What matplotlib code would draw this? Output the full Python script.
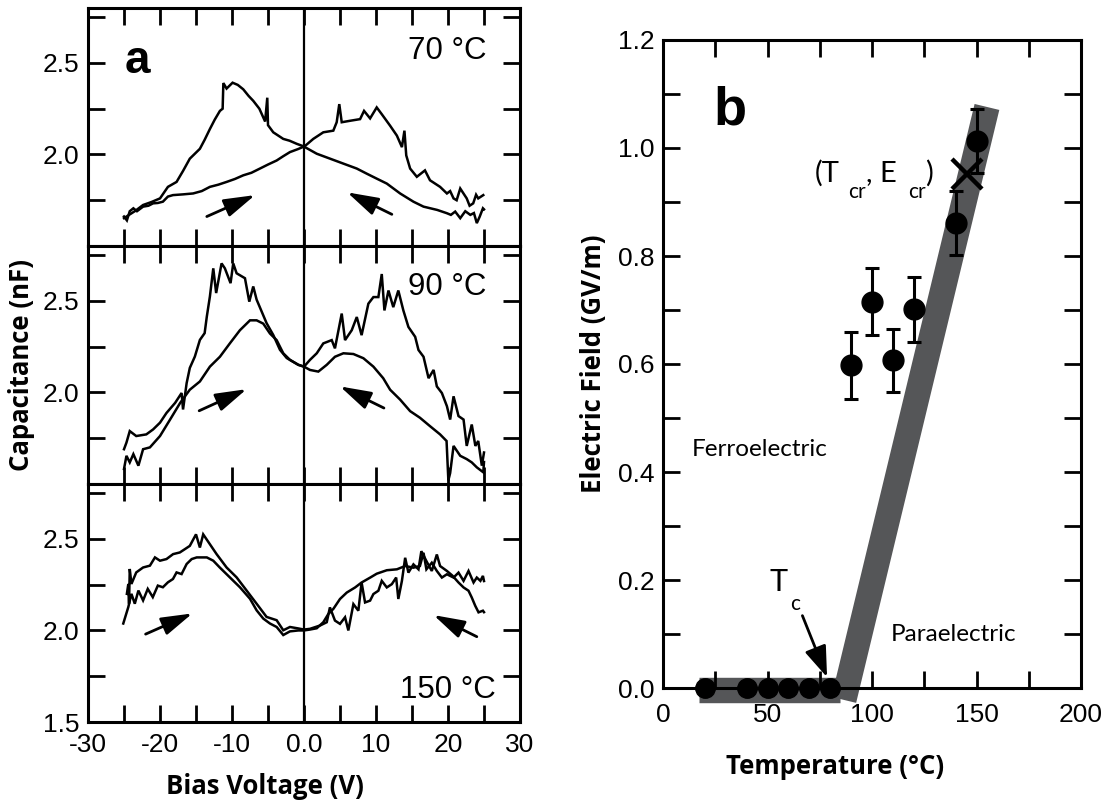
import matplotlib
matplotlib.use("Agg")
import matplotlib.pyplot as plt
from matplotlib.ticker import MultipleLocator, FixedLocator, FuncFormatter

# ---------------- data: panel a (bias voltage V, capacitance nF) ----------------
sweep_70_fwd = [(-25.0, 1.661), (-24.6, 1.64), (-24.2, 1.69), (-23.7, 1.706), (-23.2, 1.69),
                (-22.35, 1.715), (-21.6, 1.72), (-20.96, 1.733), (-20.3, 1.735), (-19.6, 1.742),
                (-18.9, 1.77), (-18.2, 1.778), (-16.8, 1.782), (-15.4, 1.787), (-14.2, 1.80),
                (-13.07, 1.823), (-11.9, 1.835), (-10.75, 1.85), (-9.6, 1.866), (-8.44, 1.886),
                (-7.3, 1.90), (-6.12, 1.923), (-5.0, 1.945), (-3.8, 1.967), (-2.9, 1.99),
                (-1.95, 2.013), (-0.79, 2.03), (0.1, 2.045), (1.29, 2.085), (2.68, 2.121),
                (4.07, 2.13), (4.54, 2.176), (4.9, 2.275), (5.24, 2.176), (6.4, 2.184),
                (7.79, 2.193), (8.34, 2.238), (9.18, 2.197), (10.1, 2.257), (10.8, 2.22),
                (11.96, 2.157), (12.9, 2.103), (13.6, 2.04), (13.95, 2.13), (14.2, 1.995),
                (14.74, 1.923), (15.67, 1.878), (16.8, 1.913), (17.5, 1.859), (18.9, 1.823),
                (19.85, 1.787), (20.3, 1.80), (20.77, 1.76), (21.2, 1.75), (21.7, 1.814),
                (22.1, 1.79), (22.6, 1.76), (23.0, 1.72), (23.5, 1.733), (23.9, 1.78),
                (24.2, 1.76), (24.9, 1.778)]
sweep_70_rev = [(25.0, 1.70), (24.85, 1.706), (24.4, 1.66), (24.0, 1.625), (23.6, 1.68),
                (23.1, 1.67), (22.4, 1.69), (21.7, 1.652), (21.0, 1.688), (20.4, 1.67),
                (19.85, 1.679), (18.5, 1.697), (16.6, 1.715), (15.2, 1.742), (13.35, 1.787),
                (11.5, 1.841), (10.1, 1.868), (8.72, 1.895), (7.33, 1.923), (5.47, 1.95),
                (3.62, 1.977), (1.77, 2.004), (-0.1, 2.045), (-1.0, 2.058), (-2.0, 2.075),
                (-2.88, 2.085), (-4.27, 2.121), (-5.0, 2.16), (-5.1, 2.31), (-5.4, 2.18),
                (-6.2, 2.25), (-7.05, 2.293), (-7.7, 2.32), (-8.44, 2.356), (-9.2, 2.38),
                (-9.92, 2.392), (-10.75, 2.36), (-11.2, 2.39), (-11.3, 2.25), (-11.68, 2.238),
                (-12.4, 2.19), (-13.07, 2.139), (-13.8, 2.08), (-14.46, 2.031), (-15.86, 1.977),
                (-16.8, 1.91), (-17.7, 1.85), (-18.9, 1.823), (-20.0, 1.76), (-21.2, 1.74),
                (-22.35, 1.724), (-23.5, 1.69), (-24.3, 1.67), (-25.0, 1.652)]

sweep_90_fwd = [(-25.0, 1.582), (-24.66, 1.654), (-24.2, 1.618), (-23.7, 1.663), (-23.0, 1.60),
                (-22.35, 1.69), (-21.4, 1.70), (-20.0, 1.762), (-18.6, 1.852), (-17.2, 1.943),
                (-15.86, 2.015), (-14.46, 2.06), (-13.07, 2.141), (-11.68, 2.195), (-10.3, 2.268),
                (-8.9, 2.34), (-7.5, 2.394), (-6.58, 2.394), (-5.66, 2.376), (-4.73, 2.322),
                (-3.8, 2.286), (-2.88, 2.214), (-1.95, 2.178), (-0.79, 2.151), (0.0, 2.141),
                (0.83, 2.178), (1.77, 2.214), (2.68, 2.268), (3.85, 2.286), (4.3, 2.241),
                (5.24, 2.431), (5.7, 2.286), (6.63, 2.34), (7.33, 2.412), (8.0, 2.313),
                (8.94, 2.485), (9.64, 2.521), (10.33, 2.521), (10.8, 2.647), (11.17, 2.448),
                (11.73, 2.557), (12.4, 2.466), (13.1, 2.557), (13.8, 2.448), (14.5, 2.358),
                (15.44, 2.304), (15.9, 2.232), (16.6, 2.195), (17.3, 2.078), (18.0, 2.123),
                (18.45, 2.033), (19.15, 1.997), (19.85, 1.925), (20.3, 1.852), (20.77, 1.979),
                (21.46, 1.871), (22.16, 1.852), (22.6, 1.708), (23.3, 1.825), (23.8, 1.708),
                (24.2, 1.735), (24.7, 1.60), (25.0, 1.672)]
sweep_90_rev = [(25.0, 1.62), (24.9, 1.564), (24.0, 1.591), (23.3, 1.618), (22.6, 1.636),
                (21.7, 1.654), (20.77, 1.708), (20.3, 1.56), (20.05, 1.52), (19.8, 1.735),
                (18.9, 1.771), (17.5, 1.816), (16.1, 1.862), (14.74, 1.898), (13.35, 1.961),
                (11.96, 2.015), (11.0, 2.078), (9.64, 2.141), (8.25, 2.187), (6.86, 2.21),
                (5.47, 2.214), (4.3, 2.195), (3.16, 2.151), (1.99, 2.114), (0.83, 2.123),
                (0.0, 2.141), (-0.79, 2.151), (-2.4, 2.188), (-3.34, 2.233), (-4.27, 2.314),
                (-5.19, 2.378), (-5.88, 2.442), (-6.58, 2.507), (-7.05, 2.579), (-7.6, 2.496),
                (-8.2, 2.624), (-9.36, 2.651), (-9.83, 2.705), (-10.2, 2.597), (-10.99, 2.678),
                (-11.45, 2.705), (-12.2, 2.543), (-12.6, 2.678), (-13.07, 2.524), (-13.5, 2.414),
                (-13.8, 2.324), (-14.46, 2.287), (-15.16, 2.196), (-15.86, 2.134), (-16.3, 2.051),
                (-16.8, 1.907), (-17.0, 1.997), (-17.9, 1.943), (-19.1, 1.888), (-20.0, 1.835),
                (-20.96, 1.798), (-21.9, 1.771), (-23.3, 1.762), (-24.2, 1.789), (-24.66, 1.726),
                (-25.0, 1.69)]

sweep_150_fwd = [(-25.1, 2.038), (-24.4, 2.128), (-23.97, 2.20), (-23.5, 2.146), (-23.0, 2.218),
                 (-22.35, 2.164), (-21.7, 2.227), (-21.0, 2.182), (-20.3, 2.245), (-19.6, 2.236),
                 (-18.9, 2.263), (-18.2, 2.281), (-17.7, 2.317), (-17.0, 2.308), (-16.3, 2.363),
                 (-15.6, 2.39), (-14.9, 2.399), (-13.5, 2.399), (-12.6, 2.381), (-11.7, 2.344),
                 (-10.3, 2.29), (-8.9, 2.236), (-7.5, 2.173), (-6.58, 2.11), (-5.66, 2.065),
                 (-4.73, 2.038), (-3.8, 2.019), (-2.88, 1.975), (-1.95, 1.995), (-0.79, 2.0),
                 (0.0, 2.0), (0.83, 2.005), (1.77, 2.012), (2.68, 2.045), (3.38, 2.09),
                 (4.08, 2.118), (5.0, 2.172), (5.94, 2.207), (7.1, 2.235), (8.0, 2.262),
                 (9.2, 2.289), (10.1, 2.31), (11.5, 2.329), (12.9, 2.334), (14.05, 2.352),
                 (15.2, 2.343), (16.1, 2.352), (16.6, 2.424), (17.0, 2.334), (17.75, 2.37),
                 (18.45, 2.325), (19.15, 2.289), (19.85, 2.307), (20.77, 2.289), (21.46, 2.316),
                 (22.16, 2.271), (22.85, 2.325), (23.55, 2.262), (24.0, 2.289), (24.5, 2.271),
                 (24.85, 2.298), (25.0, 2.27)]
sweep_150_rev = [(25.0, 2.10), (24.85, 2.108), (24.24, 2.099), (23.78, 2.135), (23.3, 2.18),
                 (22.85, 2.217), (22.16, 2.235), (21.46, 2.262), (20.6, 2.30), (19.85, 2.325),
                 (18.9, 2.352), (18.45, 2.415), (17.75, 2.325), (17.0, 2.379), (16.3, 2.433),
                 (15.9, 2.334), (15.2, 2.361), (14.5, 2.316), (14.05, 2.397), (13.6, 2.271),
                 (13.1, 2.172), (12.8, 2.289), (12.2, 2.253), (11.5, 2.235), (10.8, 2.271),
                 (10.33, 2.217), (9.64, 2.199), (9.18, 2.163), (8.48, 2.153), (8.0, 2.262),
                 (7.55, 2.108), (6.86, 2.144), (6.16, 2.0), (5.7, 2.072), (5.0, 2.036),
                 (4.3, 2.054), (3.6, 2.126), (3.16, 2.045), (2.23, 2.027), (0.83, 2.009),
                 (0.0, 2.005), (-0.79, 2.011), (-1.95, 2.019), (-2.88, 2.001), (-3.8, 2.056),
                 (-5.2, 2.074), (-6.58, 2.146), (-7.97, 2.218), (-9.36, 2.29), (-10.75, 2.344),
                 (-12.14, 2.417), (-13.07, 2.471), (-14.0, 2.525), (-14.46, 2.453), (-15.0, 2.525),
                 (-15.86, 2.462), (-16.55, 2.444), (-17.25, 2.426), (-18.18, 2.417), (-19.1, 2.39),
                 (-20.0, 2.381), (-20.7, 2.399), (-21.4, 2.354), (-22.35, 2.344), (-23.3, 2.317),
                 (-23.97, 2.254), (-24.2, 2.336), (-24.3, 2.146), (-24.4, 2.254), (-24.6, 2.20)]

panel_temps = ["70 °C", "90 °C", "150 °C"]
# sweep-direction arrows: (tail V, tail C, head V, head C)
fwd_arrows = [(-13.5, 1.661, -6.8, 1.778), (-14.56, 1.90, -7.97, 2.018), (-22.0, 1.98, -15.5, 2.093)]
rev_arrows = [(12.2, 1.673, 6.0, 1.793), (11.1, 1.915, 5.0, 2.033), (24.0, 1.966, 18.0, 2.084)]

v_ticks = [-30, -20, -10, 0, 10, 20, 30]
v_tick_labels = ["-30", "-20", "-10", "0.0", "10", "20", "30"]

# ---------------- data: panel b (temperature °C, field GV/m) ----------------
T_zero = [20, 40, 50, 60, 70, 80]
E_zero = [0.0, 0.0, 0.0, 0.0, 0.0, 0.0]
T_meas = [90, 100, 110, 120, 140, 150]
E_meas = [0.598, 0.715, 0.607, 0.701, 0.861, 1.013]
E_err = [0.062, 0.062, 0.058, 0.060, 0.060, 0.059]
T_cr, E_cr = 145.3, 0.952
boundary_low_T = [17.0, 84.5]
boundary_low_E = [-0.003, -0.003]
boundary_high_T = [86.5, 155.0]
boundary_high_E = [-0.022, 1.076]
Tc_arrow = (66.7, 0.134, 78.5, 0.020)

# ---------------- figure ----------------
W, H = 1109, 807
fig = plt.figure(figsize=(W / 100, H / 100), dpi=100)
TF = "Liberation Sans"
LF = "Lato"
BF = "Open Sans"
BLACK = "black"
GRAY = "#555658"


def style_axes(ax):
    for s in ax.spines.values():
        s.set_linewidth(2.2)
    ax.tick_params(which="both", direction="in", top=True, right=True,
                   length=12, width=2, labelsize=19)
    for lab in ax.get_xticklabels() + ax.get_yticklabels():
        lab.set_fontfamily(TF)


a_left, a_right = 88, 520
a_tops = [8, 246, 484]
a_h = 238
sweeps = [(sweep_70_fwd, sweep_70_rev), (sweep_90_fwd, sweep_90_rev), (sweep_150_fwd, sweep_150_rev)]
label_pos = [(0.923, 0.82), (0.923, 0.826), (0.944, 0.134)]
for i, top in enumerate(a_tops):
    ax = fig.add_axes([a_left / W, 1 - (top + a_h) / H, (a_right - a_left) / W, a_h / H])
    ax.set_xlim(-30, 30)
    ax.set_ylim(1.5, 2.8)
    ax.xaxis.set_major_locator(FixedLocator(v_ticks))
    ax.xaxis.set_minor_locator(MultipleLocator(5))
    ax.yaxis.set_major_locator(FixedLocator([1.5, 2.0, 2.5]))
    ax.yaxis.set_minor_locator(FixedLocator([1.75, 2.25, 2.75]))
    if i == 2:
        ax.set_xticklabels(v_tick_labels)
        ax.set_yticklabels(["1.5", "2.0", "2.5"])
    else:
        ax.set_xticklabels([])
        ax.set_yticklabels(["", "2.0", "2.5"])
    style_axes(ax)
    ax.tick_params(axis="x", pad=8)
    ax.tick_params(axis="y", pad=6)
    ax.axvline(0, color=BLACK, lw=1.6, zorder=1)
    for sw in sweeps[i]:
        v, c = zip(*sw)
        ax.plot(v, c, color=BLACK, lw=1.8, solid_joinstyle="miter")
    for (x0, y0, x1, y1) in (fwd_arrows[i], rev_arrows[i]):
        ax.annotate("", xy=(x1, y1), xytext=(x0, y0),
                    arrowprops=dict(arrowstyle="-|>,head_length=0.95,head_width=0.28",
                                    color=BLACK, lw=2.0, mutation_scale=20,
                                    shrinkA=0, shrinkB=0))
    ax.text(label_pos[i][0], label_pos[i][1], panel_temps[i], transform=ax.transAxes,
            ha="right", va="center", fontsize=22.5, family=TF)
    if i == 0:
        ax.text(0.085, 0.726, "a", transform=ax.transAxes, ha="left", va="baseline",
                fontsize=33, fontweight="bold", family=TF)

fig.text(22 / W, 1 - 365 / H, "Capacitance (nF)", rotation=90, ha="center", va="center",
         fontsize=18.5, fontweight="bold", family=BF)
fig.text(265 / W, 1 - 787 / H, "Bias Voltage (V)", ha="center", va="center",
         fontsize=18.5, fontweight="bold", family=BF)

# ---------------- panel b ----------------
b_left, b_right, b_top, b_bot = 663, 1081, 40, 688
axb = fig.add_axes([b_left / W, 1 - b_bot / H, (b_right - b_left) / W, (b_bot - b_top) / H])
axb.set_xlim(0, 200)
axb.set_ylim(0, 1.2)
axb.xaxis.set_major_locator(MultipleLocator(50))
axb.xaxis.set_minor_locator(MultipleLocator(25))
axb.yaxis.set_major_locator(MultipleLocator(0.2))
axb.yaxis.set_minor_locator(MultipleLocator(0.1))
axb.xaxis.set_major_formatter(FuncFormatter(lambda v, p: f"{v:.0f}"))
axb.yaxis.set_major_formatter(FuncFormatter(lambda v, p: f"{v:.1f}"))
style_axes(axb)
axb.tick_params(axis="x", pad=11)
axb.tick_params(axis="y", pad=6)

axb.plot(boundary_low_T, boundary_low_E, color=GRAY, lw=18.3, solid_capstyle="butt",
         clip_on=False, zorder=1)
axb.plot(boundary_high_T, boundary_high_E, color=GRAY, lw=18.3, solid_capstyle="butt",
         clip_on=False, zorder=1)
axb.plot(T_zero, E_zero, "o", color=BLACK, ms=14, clip_on=False, zorder=4)
axb.errorbar(T_meas, E_meas, yerr=E_err, fmt="o", color=BLACK, ms=15, capsize=5,
             elinewidth=2.2, capthick=2.2, zorder=4)
axb.plot([T_cr], [E_cr], marker="x", ms=22, mew=3.2, color=BLACK, zorder=5)

axb.annotate("", xy=(Tc_arrow[2], Tc_arrow[3]), xytext=(Tc_arrow[0], Tc_arrow[1]),
             arrowprops=dict(arrowstyle="-|>,head_length=0.95,head_width=0.34",
                             color=BLACK, lw=2.0, mutation_scale=20, shrinkA=0, shrinkB=0),
             zorder=6)

axb.text(13.8, 0.429, "Ferroelectric", fontsize=17.5, family=LF, ha="left", va="baseline")
axb.text(109, 0.087, "Paraelectric", fontsize=17.5, family=LF, ha="left", va="baseline")
axb.text(50.8, 0.18, "T", fontsize=22, family=LF, ha="left", va="baseline")
axb.text(60.8, 0.144, "c", fontsize=15, family=LF, ha="left", va="baseline")
axb.text(72.8, 0.938, "(T", fontsize=21, family=LF, ha="left", va="baseline")
axb.text(88.8, 0.907, "cr", fontsize=15, family=LF, ha="left", va="baseline")
axb.text(97.0, 0.938, ", E", fontsize=21, family=LF, ha="left", va="baseline")
axb.text(117.3, 0.907, "cr", fontsize=15, family=LF, ha="left", va="baseline")
axb.text(125.5, 0.938, ")", fontsize=21, family=LF, ha="left", va="baseline")
axb.text(0.12, 0.869, "b", transform=axb.transAxes, ha="left", va="baseline",
         fontsize=39, fontweight="bold", family=TF)

fig.text(594 / W, 1 - 364 / H, "Electric Field (GV/m)", rotation=90, ha="center", va="center",
         fontsize=18.5, fontweight="bold", family=BF)
fig.text(835 / W, 1 - 767 / H, "Temperature (°C)", ha="center", va="center",
         fontsize=18.5, fontweight="bold", family=BF)

fig.savefig("out.png", dpi=100)
